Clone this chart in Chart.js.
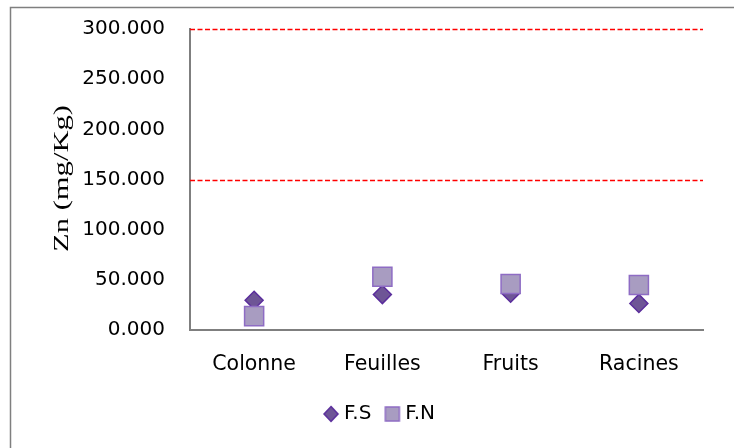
<!DOCTYPE html>
<html>
<head>
<meta charset="utf-8">
<script src="https://cdn.jsdelivr.net/npm/chart.js@4/dist/chart.umd.min.js"></script>
<style>
  html, body { margin: 0; padding: 0; background: #fff; }
  #wrap { width: 734px; height: 448px; position: relative; }
</style>
</head>
<body>
<div id="wrap"><canvas id="c" width="734" height="448"></canvas></div>
<script>
// Zn content by plant part, two sites
const categories = ['Colonne', 'Feuilles', 'Fruits', 'Racines'];
const seriesNames = ['F.S', 'F.N'];
const valuesFS = [29.6, 35.3, 36.6, 26.5];
const valuesFN = [13.8, 53.1, 45.8, 44.9];
const yTicks = [0, 50, 100, 150, 200, 250, 300];
const thresholds = [150, 300];
const yTitle = 'Zn (mg/Kg)';

const FONT = '"DejaVu Sans", sans-serif';
const styleFS = { fill: '#6e5596', stroke: '#5a2d9c' };
const styleFN = { fill: '#a89cc1', stroke: '#8e6cc4' };

// small legend markers
function marker(kind, s) {
  const c = document.createElement('canvas');
  c.width = 18; c.height = 18;
  const g = c.getContext('2d');
  g.fillStyle = s.fill; g.strokeStyle = s.stroke; g.lineWidth = 1.5;
  g.beginPath();
  if (kind === 'diamond') {
    g.moveTo(9, 1.5); g.lineTo(16, 9); g.lineTo(9, 16.5); g.lineTo(2, 9); g.closePath();
  } else {
    g.rect(2, 2, 14, 14);
  }
  g.fill(); g.stroke();
  return c;
}
const legendMarks = [marker('diamond', styleFS), marker('square', styleFN)];

// outer frame, dashed threshold lines and the rotated axis title
const decor = {
  id: 'decor',
  beforeDraw(chart) {
    const ctx = chart.ctx;
    ctx.save();
    ctx.fillStyle = '#fff';
    ctx.fillRect(0, 0, chart.width, chart.height);
    ctx.strokeStyle = '#7f7f7f';
    ctx.lineWidth = 1.5;
    ctx.beginPath();
    ctx.moveTo(10.5, chart.height);
    ctx.lineTo(10.5, 7.5);
    ctx.lineTo(chart.width, 7.5);
    ctx.stroke();
    ctx.restore();
  },
  afterDatasetsDraw(chart) {
    const { ctx, chartArea, scales } = chart;
    ctx.save();
    ctx.strokeStyle = '#ff0000';
    ctx.lineWidth = 1.3;
    ctx.setLineDash([5, 2.5]);
    thresholds.forEach(v => {
      const y = Math.round(scales.y.getPixelForValue(v)) + 0.5;
      ctx.beginPath();
      ctx.moveTo(chartArea.left, y);
      ctx.lineTo(chartArea.right, y);
      ctx.stroke();
    });
    ctx.restore();
  },
  afterDraw(chart) {
    const ctx = chart.ctx;
    ctx.save();
    ctx.translate(68, 178.5);
    ctx.rotate(-Math.PI / 2);
    ctx.fillStyle = '#000';
    ctx.font = '20px "Liberation Serif", "Times New Roman", serif';
    const w = ctx.measureText(yTitle).width;
    ctx.scale(147 / w, 1);
    ctx.textAlign = 'center';
    ctx.textBaseline = 'alphabetic';
    ctx.fillText(yTitle, 0, 0);
    ctx.restore();
  },
  afterLayout(chart) {
    const lg = chart.legend;
    if (lg) { lg.left += 30; lg.right += 30; }
  }
};

new Chart(document.getElementById('c'), {
  type: 'line',
  data: {
    labels: categories,
    datasets: [
      {
        label: seriesNames[0],
        data: valuesFS,
        showLine: false,
        pointStyle: 'rectRot',
        pointRadius: 9,
        pointHoverRadius: 9,
        backgroundColor: styleFS.fill,
        borderColor: styleFS.stroke,
        pointBorderWidth: 1.5,
        order: 1
      },
      {
        label: seriesNames[1],
        data: valuesFN,
        showLine: false,
        pointStyle: 'rect',
        pointRadius: 13.5,
        pointHoverRadius: 13.5,
        backgroundColor: styleFN.fill,
        borderColor: styleFN.stroke,
        pointBorderWidth: 1.5,
        order: 0
      }
    ]
  },
  options: {
    responsive: false,
    animation: false,
    layout: { padding: { top: 29, right: 31, left: 0, bottom: 14 } },
    scales: {
      x: {
        offset: true,
        grid: { display: false, drawTicks: false },
        border: { display: true, color: '#7f7f7f', width: 2 },
        ticks: { color: '#000', font: { family: FONT, size: 20.5 }, padding: 22, maxRotation: 0 },
        afterFit(s) { s.height = 56; }
      },
      y: {
        min: 0,
        max: 300,
        afterBuildTicks(s) { s.ticks = yTicks.map(v => ({ value: v })); },
        grid: { display: false, drawTicks: false },
        border: { display: true, color: '#7f7f7f', width: 2 },
        ticks: {
          color: '#000',
          font: { family: FONT, size: 20 },
          padding: 25,
          callback: v => Number(v).toFixed(3)
        },
        afterFit(s) { s.width = 190; s.paddingTop = 0; s.paddingBottom = 0; }
      }
    },
    plugins: {
      legend: {
        position: 'bottom',
        labels: {
          usePointStyle: true,
          boxWidth: 6,
          boxHeight: 6,
          padding: 18,
          color: '#000',
          font: { family: FONT, size: 20 },
          sort: (a, b) => a.datasetIndex - b.datasetIndex,
          generateLabels(chart) {
            const items = Chart.defaults.plugins.legend.labels.generateLabels(chart);
            items.forEach(it => { it.pointStyle = legendMarks[it.datasetIndex]; });
            return items;
          }
        }
      },
      tooltip: { enabled: false }
    }
  },
  plugins: [decor]
});
</script>
</body>
</html>
